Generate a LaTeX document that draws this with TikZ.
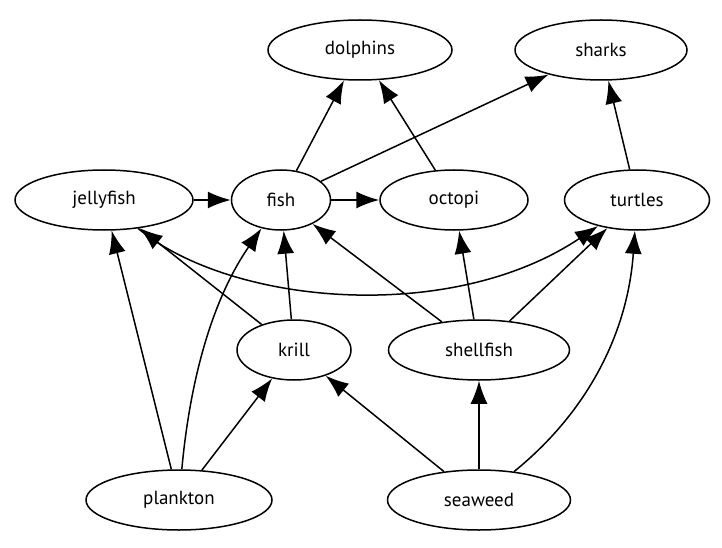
\documentclass[tikz,border=0pt]{standalone}
\usepackage{fontspec}
\setmainfont{PT Sans}
\usetikzlibrary{arrows.meta,shapes.geometric}

\begin{document}
\begin{tikzpicture}[x=1pt,y=-1pt,
 every node/.style={align=center,font=\fontsize{19}{21}\selectfont},
 animal/.style={draw,ellipse,line width=1.5pt,inner sep=0pt,minimum height=60pt},
 eats/.style={line width=1.5pt,-{Latex[length=23pt,width=17pt]}}]
\useasboundingbox (0,0) rectangle (722,548);
% top row
\node[animal,minimum width=184pt] (dolphins) at (360,50) {dolphins};
\node[animal,minimum width=172pt] (sharks) at (601,50) {sharks};
% middle row
\node[animal,minimum width=178pt] (jellyfish) at (104,200) {jellyfish};
\node[animal,minimum width=99pt] (fish) at (281,200) {fish};
\node[animal,minimum width=148pt] (octopi) at (454,200) {octopi};
\node[animal,minimum width=145pt] (turtles) at (637,200) {turtles};
\node[animal,minimum width=114pt] (krill) at (294,350) {krill};
\node[animal,minimum width=181pt] (shellfish) at (479,350) {shellfish};
% bottom row
\node[animal,minimum width=186pt] (plankton) at (179,500) {plankton};
\node[animal,minimum width=183pt] (seaweed) at (479,500) {seaweed};
% who eats whom
\draw[eats] (fish)--(dolphins);
\draw[eats] (octopi)--(dolphins);
\draw[eats] (fish)--(sharks);
\draw[eats] (turtles)--(sharks);
\draw[eats] (jellyfish)--(fish);
\draw[eats] (fish)--(octopi);
\draw[eats] (jellyfish) .. controls (230,305) and (450,325) .. (turtles);
\draw[eats] (krill)--(jellyfish);
\draw[eats] (krill)--(fish);
\draw[eats] (shellfish)--(fish);
\draw[eats] (shellfish)--(octopi);
\draw[eats] (shellfish)--(turtles);
\draw[eats] (plankton)--(jellyfish);
\draw[eats] (plankton) .. controls (190,380) and (212,300) .. (fish);
\draw[eats] (plankton)--(krill);
\draw[eats] (seaweed)--(krill);
\draw[eats] (seaweed)--(shellfish);
\draw[eats] (seaweed) .. controls (590,410) and (628,330) .. (turtles);
\end{tikzpicture}
\end{document}
